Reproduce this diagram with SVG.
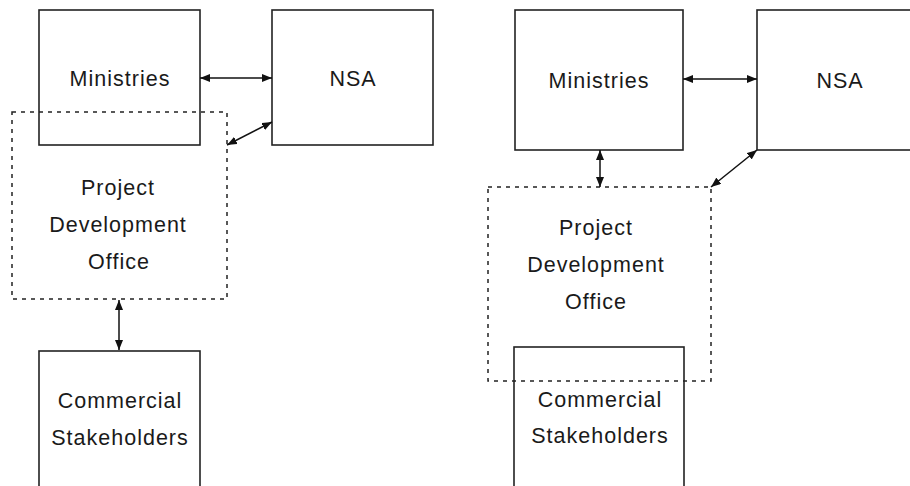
<svg xmlns="http://www.w3.org/2000/svg" width="910" height="486" viewBox="0 0 910 486">
<style>
.box{fill:none;stroke:#222;stroke-width:1.6}
.dash{fill:none;stroke:#222;stroke-width:1.5;stroke-dasharray:4 5}
.conn{stroke:#111;stroke-width:1.5;fill:none;marker-start:url(#ah);marker-end:url(#ah)}
text{font-family:"Liberation Sans",Arial,sans-serif;font-size:21.5px;letter-spacing:1px;fill:#1a1a1a;text-anchor:middle}
</style>
<defs>
<marker id="ah" markerUnits="userSpaceOnUse" markerWidth="10" markerHeight="8" refX="10" refY="4" orient="auto-start-reverse">
<path d="M0,0 L10,4 L0,8 z" fill="#111"/>
</marker>
</defs>
<rect width="910" height="486" fill="#fff"/>
<g id="left-ministries"><rect class="box" x="39" y="10" width="161" height="135"/><text x="120" y="86">Ministries</text></g>
<g id="left-nsa"><rect class="box" x="272" y="10" width="161" height="135"/><text x="353" y="86">NSA</text></g>
<g id="left-pdo"><rect class="dash" x="12" y="112" width="215" height="187"/><text x="118" y="195">Project</text><text x="118" y="232">Development</text><text x="119" y="269">Office</text></g>
<g id="left-commercial"><rect class="box" x="39" y="351" width="161" height="150"/><text x="120" y="408">Commercial</text><text x="120" y="445">Stakeholders</text></g>
<g id="right-ministries"><rect class="box" x="515" y="10" width="168" height="140"/><text x="599" y="88">Ministries</text></g>
<g id="right-nsa"><rect class="box" x="757" y="10" width="170" height="140"/><text x="840" y="88">NSA</text></g>
<g id="right-pdo"><rect class="dash" x="488" y="187" width="223" height="194"/><text x="596" y="235">Project</text><text x="596" y="272">Development</text><text x="596" y="309">Office</text></g>
<g id="right-commercial"><rect class="box" x="514" y="347" width="170" height="150"/><text x="600" y="407">Commercial</text><text x="600" y="443">Stakeholders</text></g>
<g id="connectors">
<line class="conn" x1="200" y1="78" x2="272" y2="78"/>
<line class="conn" x1="272" y1="122" x2="227" y2="145"/>
<line class="conn" x1="119" y1="300" x2="119" y2="350"/>
<line class="conn" x1="683" y1="79" x2="757" y2="79"/>
<line class="conn" x1="600" y1="150" x2="600" y2="187"/>
<line class="conn" x1="757" y1="150" x2="711" y2="187"/>
</g>
</svg>
